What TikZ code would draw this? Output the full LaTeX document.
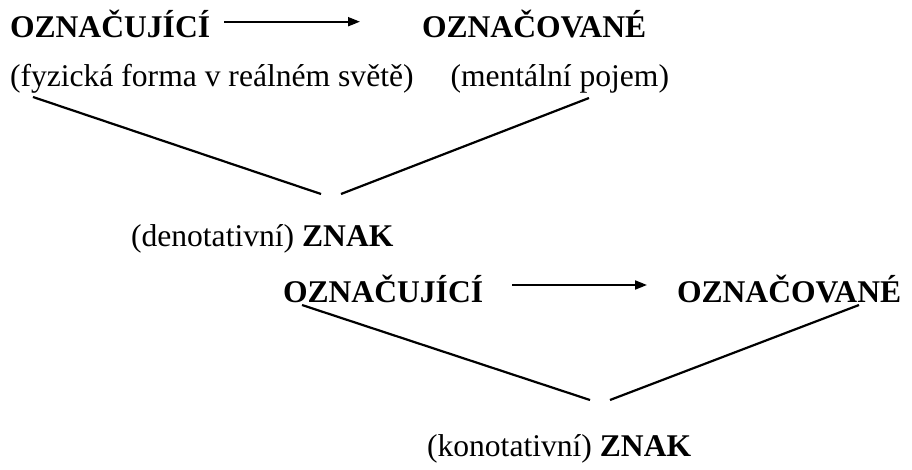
\documentclass[tikz,border=0pt]{standalone}
\usepackage{fontspec}
\setmainfont{Liberation Serif}
\usetikzlibrary{arrows.meta}
\tikzset{
  txt/.style={anchor=base west, inner sep=0pt, outer sep=0pt, font=\fontsize{31.6}{37}\selectfont},
  arr/.style={line width=2pt, -{Triangle[length=12pt,width=9pt]}},
  vline/.style={line width=2.2pt}
}
\begin{document}
\begin{tikzpicture}[x=1pt,y=-1pt]
\useasboundingbox (0,0) rectangle (912,470);
% row 1
\node[txt] (sr1) at (10,38) {\textbf{OZNAČUJÍCÍ}};
\node[txt] (sd1) at (422,38) {\textbf{OZNAČOVANÉ}};
% row 2
\node[txt] (fy) at (10,87) {(fyzická forma v reálném světě)};
\node[txt, anchor=base east] (me) at (669,87) {(mentální pojem)};
% row 3
\node[txt] (zn1) at (131,247) {(denotativní) \textbf{ZNAK}};
% row 4
\node[txt] (sr2) at (283,302) {\textbf{OZNAČUJÍCÍ}};
\node[txt] (sd2) at (677,302) {\textbf{OZNAČOVANÉ}};
% row 5
\node[txt] (zn2) at (427,456) {(konotativní) \textbf{ZNAK}};
% arrow ends
\coordinate (a1s) at (224,21.7);
\coordinate (a1e) at (360,21.7);
\coordinate (a2s) at (512,285);
\coordinate (a2e) at (647,285);
\draw[arr] (a1s) -- (a1e);
\draw[arr] (a2s) -- (a2e);
% V lines
\coordinate (la) at (33,97);
\coordinate (lab) at (321,194);
\coordinate (lbb) at (341,194);
\coordinate (lb) at (589,98);
\coordinate (lc) at (302,305);
\coordinate (lcb) at (590,400);
\coordinate (ldb) at (610,400);
\coordinate (ld) at (859,305);
\draw[vline] (la) -- (lab);
\draw[vline] (lbb) -- (lb);
\draw[vline] (lc) -- (lcb);
\draw[vline] (ldb) -- (ld);
\end{tikzpicture}
\end{document}
